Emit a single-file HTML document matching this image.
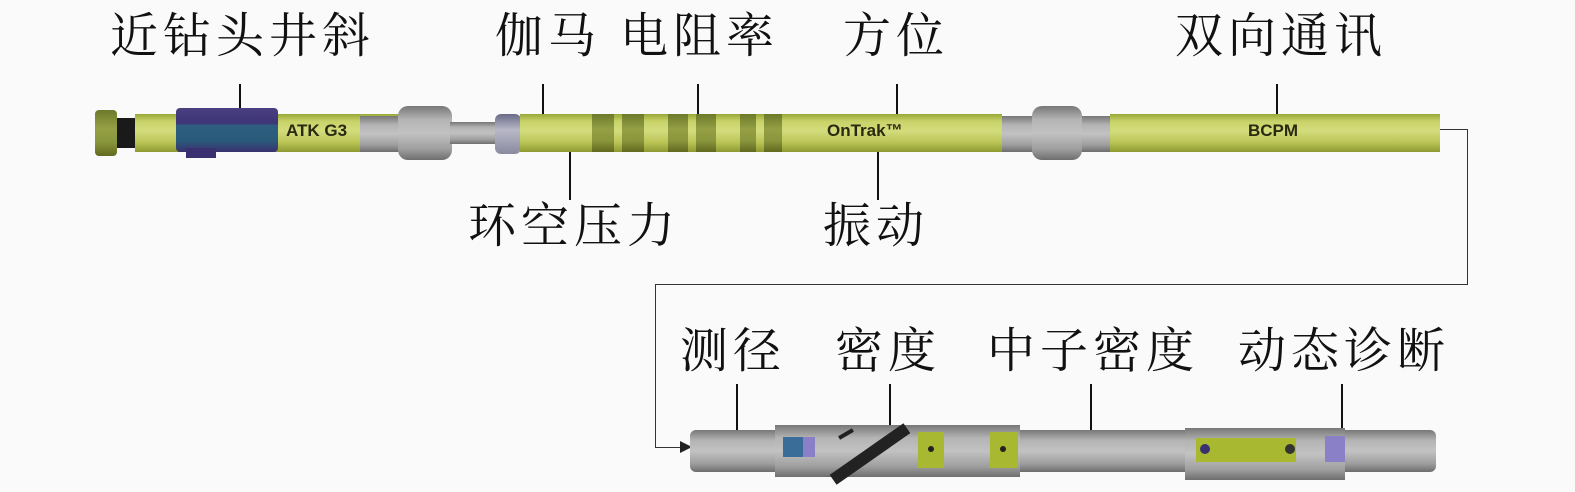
<!DOCTYPE html>
<html><head><meta charset="utf-8"><style>
body{margin:0;width:1575px;height:492px;background:#fafafa;position:relative;overflow:hidden;font-family:"Liberation Serif","Noto Serif CJK SC",serif}
div{position:absolute;box-sizing:border-box}
.t{font-size:48px;color:#111;line-height:50px;white-space:nowrap;letter-spacing:5px}
.l{width:2px;background:#111}
.y{background:linear-gradient(#9aa838,#c9d36a 20%,#d3dc7c 45%,#b9c455 75%,#8e9a30)}
.g{background:linear-gradient(#777,#b4b4b4 25%,#c2c2c2 50%,#9e9e9e 80%,#6e6e6e)}
.d{background:linear-gradient(#6d7a2a,#95a045 40%,#8a963c 70%,#60691f)}
.s{font-family:"Liberation Sans",sans-serif;font-weight:bold;font-size:17px;color:#2a2a10}
</style></head><body>
<div class="t" style="left:110px;top:12px">近钻头井斜</div>
<div class="t" style="left:495px;top:12px">伽马</div>
<div class="t" style="left:620px;top:12px">电阻率</div>
<div class="t" style="left:843px;top:12px">方位</div>
<div class="t" style="left:1175px;top:12px">双向通讯</div>
<div class="t" style="left:468px;top:202px">环空压力</div>
<div class="t" style="left:823px;top:202px">振动</div>
<div class="t" style="left:680px;top:327px">测径</div>
<div class="t" style="left:835px;top:327px">密度</div>
<div class="t" style="left:987px;top:327px">中子密度</div>
<div class="t" style="left:1238px;top:327px">动态诊断</div>

<div class="l" style="left:239px;top:84px;height:28px"></div>
<div class="l" style="left:542px;top:84px;height:30px"></div>
<div class="l" style="left:697px;top:84px;height:30px"></div>
<div class="l" style="left:896px;top:84px;height:30px"></div>
<div class="l" style="left:1276px;top:84px;height:30px"></div>
<div class="l" style="left:569px;top:150px;height:50px"></div>
<div class="l" style="left:877px;top:150px;height:50px"></div>
<div class="l" style="left:736px;top:384px;height:48px"></div>
<div class="l" style="left:889px;top:384px;height:48px"></div>
<div class="l" style="left:1090px;top:384px;height:48px"></div>
<div class="l" style="left:1341px;top:384px;height:48px"></div>

<!-- connector -->
<div style="left:1440px;top:129px;width:28px;height:1px;background:#333"></div>
<div style="left:1467px;top:129px;width:1px;height:156px;background:#333"></div>
<div style="left:655px;top:284px;width:813px;height:1px;background:#333"></div>
<div style="left:655px;top:284px;width:1px;height:164px;background:#333"></div>
<div style="left:655px;top:447px;width:26px;height:1px;background:#333"></div>
<div style="left:680px;top:441px;width:0;height:0;border-left:12px solid #222;border-top:6px solid transparent;border-bottom:6px solid transparent"></div>

<!-- top tool -->
<div class="d" style="left:95px;top:110px;width:22px;height:46px;border-radius:4px"></div>
<div style="left:117px;top:118px;width:18px;height:30px;background:#1a1a1a"></div>
<div class="y" style="left:135px;top:114px;width:265px;height:38px"></div>
<div style="left:176px;top:108px;width:102px;height:44px;background:linear-gradient(#4a3f80,#3d3577 35%,#2f5f80 40%,#2a5a7a 75%,#3a3070);border-radius:4px"></div>
<div style="left:186px;top:148px;width:30px;height:10px;background:#3a3070"></div>
<div class="s" style="left:286px;top:121px">ATK G3</div>
<div class="g" style="left:360px;top:116px;width:40px;height:36px"></div>
<div class="g" style="left:398px;top:106px;width:54px;height:54px;border-radius:10px"></div>
<div class="g" style="left:450px;top:122px;width:48px;height:22px"></div>
<div class="g" style="left:495px;top:114px;width:26px;height:40px;border-radius:6px;background:linear-gradient(#6a6a88,#b8b8c8 40%,#8a8aa0)"></div>
<div class="y" style="left:520px;top:114px;width:482px;height:38px"></div>
<div class="d" style="left:592px;top:114px;width:22px;height:38px"></div>
<div class="d" style="left:622px;top:114px;width:22px;height:38px"></div>
<div class="d" style="left:668px;top:114px;width:20px;height:38px"></div>
<div class="d" style="left:696px;top:114px;width:20px;height:38px"></div>
<div class="d" style="left:740px;top:114px;width:16px;height:38px"></div>
<div class="d" style="left:764px;top:114px;width:18px;height:38px"></div>
<div class="s" style="left:827px;top:121px">OnTrak™</div>
<div class="g" style="left:1002px;top:116px;width:108px;height:36px"></div>
<div class="g" style="left:1032px;top:106px;width:50px;height:54px;border-radius:10px"></div>
<div class="y" style="left:1110px;top:114px;width:330px;height:38px"></div>
<div class="s" style="left:1248px;top:121px">BCPM</div>

<!-- bottom tool -->
<div class="g" style="left:690px;top:430px;width:746px;height:42px;border-radius:6px"></div>
<div class="g" style="left:775px;top:425px;width:140px;height:52px"></div>
<div style="left:783px;top:437px;width:20px;height:20px;background:#3a6e98"></div>
<div style="left:803px;top:437px;width:12px;height:20px;background:#8a80c8"></div>
<div style="left:825px;top:448px;width:90px;height:12px;background:#222;transform:rotate(-35deg)"></div>
<div style="left:838px;top:432px;width:16px;height:4px;background:#222;transform:rotate(-30deg)"></div>
<div class="g" style="left:910px;top:425px;width:110px;height:52px"></div>
<div style="left:918px;top:432px;width:26px;height:36px;background:#a8b830"></div>
<div style="left:928px;top:446px;width:6px;height:6px;border-radius:50%;background:#222"></div>
<div style="left:990px;top:432px;width:28px;height:36px;background:#a8b830"></div>
<div style="left:1000px;top:446px;width:6px;height:6px;border-radius:50%;background:#222"></div>
<div class="g" style="left:1185px;top:428px;width:160px;height:52px"></div>
<div style="left:1196px;top:438px;width:100px;height:24px;background:#a8b830"></div>
<div style="left:1200px;top:444px;width:10px;height:10px;border-radius:50%;background:#3a3070"></div>
<div style="left:1285px;top:444px;width:10px;height:10px;border-radius:50%;background:#333"></div>
<div style="left:1325px;top:436px;width:20px;height:26px;background:#8a80c8"></div>
</body></html>
